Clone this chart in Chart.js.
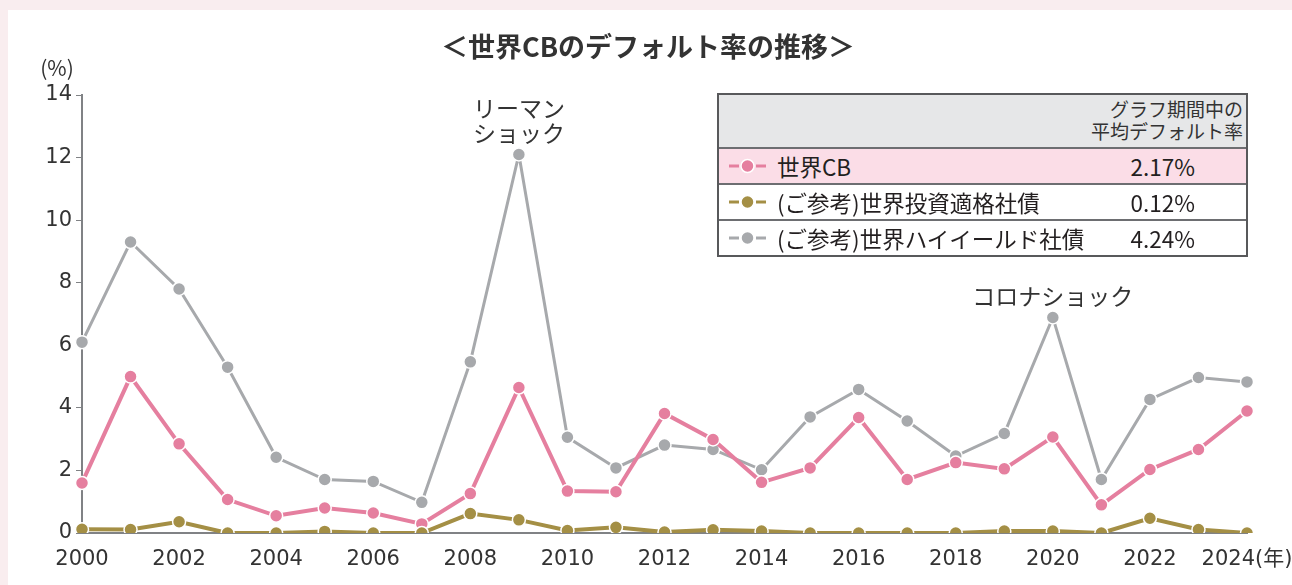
<!DOCTYPE html>
<html lang="ja">
<head>
<meta charset="utf-8">
<script src="https://cdn.jsdelivr.net/npm/chart.js@4"></script>
<style>
  body { margin: 0; width: 1292px; height: 585px; background: #f9edef; overflow: hidden;
         font-family: "Noto Sans CJK JP", "Noto Sans", sans-serif; color: #231f20; }
  #card { position: absolute; left: 8px; top: 10px; width: 1284px; height: 575px; background: #fff; }
  #chart { position: absolute; left: 0; top: 0; }
  #title { position: absolute; left: 0; width: 1296px; top: 26px; text-align: center;
           font-size: 27px; font-weight: bold; color: #333; }
  #legend { position: absolute; left: 717px; top: 93px; width: 531px; box-sizing: border-box;
            border: 2px solid #58595b; }
  .row { position: relative; box-sizing: border-box; height: 36px; border-top: 2px solid #6d6e71; }
  .head { height: 52px; border-top: none; background: #e6e7e8; }
  .head div { position: absolute; right: 3px; top: 3px; font-size: 19px; line-height: 22px;
              text-align: right; color: #333; }
  .cb { background: #fbdde7; }
  .row svg { position: absolute; left: 10px; top: 9px; }
  .name { position: absolute; left: 58px; top: 1px; font-size: 22.5px; line-height: 32px; }
  .val { position: absolute; right: 51px; top: 1px; font-size: 22.5px; line-height: 32px; }
</style>
</head>
<body>
<div id="card"></div>
<canvas id="chart" width="1292" height="585"></canvas>
<div id="title">＜世界CBのデフォルト率の推移＞</div>
<div id="legend"></div>
<script>
// data
let years = [2000, 2001, 2002, 2003, 2004, 2005, 2006, 2007, 2008, 2009, 2010, 2011, 2012,
  2013, 2014, 2015, 2016, 2017, 2018, 2019, 2020, 2021, 2022, 2023, 2024];
let worldCB = [1.6, 5.0, 2.85, 1.07, 0.55, 0.8, 0.64, 0.29, 1.26, 4.65, 1.34, 1.32, 3.82,
  2.99, 1.62, 2.08, 3.69, 1.71, 2.25, 2.05, 3.07, 0.9, 2.03, 2.67, 3.9];
let investmentGrade = [0.12, 0.11, 0.36, 0, 0, 0.05, 0, 0, 0.62, 0.42, 0.08, 0.18, 0.03,
  0.1, 0.06, 0, 0, 0, 0, 0.06, 0.06, 0, 0.47, 0.11, 0];
let highYield = [6.1, 9.3, 7.8, 5.3, 2.42, 1.71, 1.65, 0.98, 5.47, 12.1, 3.06, 2.08, 2.81,
  2.67, 2.02, 3.71, 4.59, 3.58, 2.46, 3.18, 6.89, 1.71, 4.27, 4.97, 4.83];
let yTicks = [0, 2, 4, 6, 8, 10, 12, 14];

let seriesNames = ["世界CB", "(ご参考)世界投資適格社債", "(ご参考)世界ハイイールド社債"];
let averages = ["2.17%", "0.12%", "4.24%"];
let colors = ["#e57f9f", "#a48f45", "#a7a9ac"];

let notes = [
  { year: 2009, series: highYield, lines: ["リーマン", "ショック"] },
  { year: 2020, series: highYield, lines: ["コロナショック"] },
];

let font = '"Noto Sans CJK JP", "Noto Sans", sans-serif';
let numFont = '"DejaVu Sans", "Noto Sans CJK JP", sans-serif';

// legend table
let legend = document.getElementById("legend");
legend.innerHTML = '<div class="row head"><div>グラフ期間中の<br>平均デフォルト率</div></div>';
seriesNames.forEach((name, i) => {
  let row = document.createElement("div");
  row.className = "row" + (i === 0 ? " cb" : "");
  row.innerHTML =
    `<svg width="38" height="16"><line x1="0" y1="8" x2="10" y2="8" stroke="${colors[i]}" stroke-width="3"/>` +
    `<line x1="27" y1="8" x2="37" y2="8" stroke="${colors[i]}" stroke-width="3"/>` +
    `<circle cx="18.5" cy="8" r="6.5" fill="${colors[i]}" stroke="#fff" stroke-width="1.5"/></svg>` +
    `<span class="name">${name}</span><span class="val">${averages[i]}</span>`;
  legend.appendChild(row);
});

// annotations, unit label
let extraText = {
  id: "extraText",
  afterDraw(chart) {
    let { ctx, chartArea, scales } = chart;
    ctx.save();
    ctx.fillStyle = "#333";
    ctx.textAlign = "center";
    ctx.textBaseline = "middle";
    ctx.font = "23px " + font;
    notes.forEach((n) => {
      let i = years.indexOf(n.year);
      let x = scales.x.getPixelForValue(i);
      let y = scales.y.getPixelForValue(n.series[i]);
      n.lines.forEach((t, k) => {
        ctx.fillText(t, x, y - 21 - (n.lines.length - 1 - k) * 25);
      });
    });
    ctx.font = "21px " + font;
    ctx.fillText("(%)", 57, chartArea.top - 27);
    ctx.restore();
  },
};

let ctx = document.getElementById("chart").getContext("2d");
new Chart(ctx, {
  type: "line",
  data: {
    labels: years,
    datasets: [
      { label: seriesNames[1], data: investmentGrade, color: colors[1] },
      { label: seriesNames[0], data: worldCB, color: colors[0] },
      { label: seriesNames[2], data: highYield, color: colors[2] },
    ].map((d) => ({
      label: d.label,
      data: d.data,
      borderColor: d.color,
      backgroundColor: d.color,
      borderWidth: d.color === colors[2] ? 3 : 4,
      pointRadius: 6.5,
      pointBorderColor: "#fff",
      pointBorderWidth: 1.5,
      tension: 0,
    })),
  },
  options: {
    responsive: false,
    animation: false,
    layout: { padding: { left: 0, right: 45, top: 95, bottom: 0 } },
    plugins: { legend: { display: false }, tooltip: { enabled: false } },
    scales: {
      x: {
        grid: { display: false },
        border: { color: "#808285", width: 2 },
        afterFit: (s) => {
          s.height = 52;
          s.paddingLeft = 0;
          s.paddingRight = 0;
        },
        ticks: {
          autoSkip: false,
          maxRotation: 0,
          padding: 6,
          color: "#333",
          font: { family: numFont, size: 21 },
          callback: (v, i) => {
            if (years[i] % 2 !== 0) return "";
            return i === years.length - 1 ? years[i] + "(年)" : String(years[i]);
          },
        },
      },
      y: {
        min: 0,
        max: 14,
        afterFit: (s) => {
          s.width = 82;
          s.paddingTop = 0;
          s.paddingBottom = 0;
        },
        afterBuildTicks: (s) => { s.ticks = yTicks.map((v) => ({ value: v })); },
        grid: { drawOnChartArea: false, drawTicks: true, tickLength: 6, color: "#808285" },
        border: { color: "#808285", width: 2 },
        ticks: { padding: 4, color: "#333", font: { family: numFont, size: 21 } },
      },
    },
  },
  plugins: [extraText],
});
</script>
</body>
</html>
